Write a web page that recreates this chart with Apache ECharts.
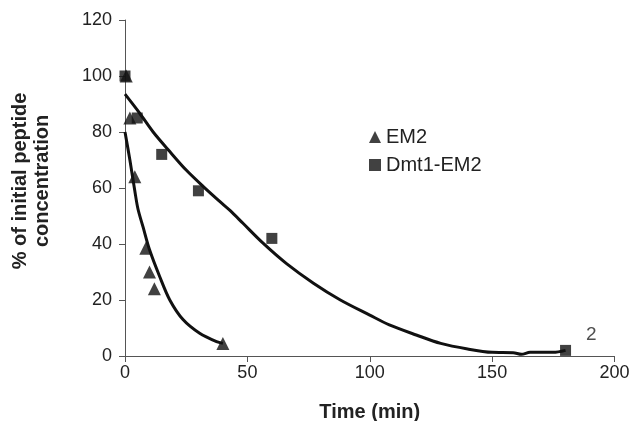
<!DOCTYPE html>
<html>
<head>
<meta charset="utf-8">
<script src="https://cdn.jsdelivr.net/npm/echarts@6/dist/echarts.min.js"></script>
<style>
  html, body { margin: 0; padding: 0; background: #fff; }
  #chart { width: 635px; height: 421px; }
</style>
</head>
<body>
<div id="chart"></div>
<script>
  // measured points [time (min), % of initial]
  var em2Points = [[0.5, 100], [2, 85], [4, 64], [8.5, 38.5], [10, 30], [12, 24], [40, 4.5]]
  var dmtPoints = [[0, 100], [5, 85], [15, 72], [30, 59], [60, 42], [180, 2]]

  // fitted curves
  var em2Fit = [[0, 80], [2, 70], [4, 59], [5.3, 52.5], [7.4, 46], [10, 38], [14.2, 28.3],
    [18.3, 20], [23.7, 13], [30.5, 8.1], [37.4, 5.1], [40, 4.5]]
  var dmtFit = [[0, 93.5], [6, 86.7], [11.5, 80], [18.3, 73], [25, 66.4], [32, 60.5],
    [38.7, 55.2], [43, 51.9], [48.2, 47.4], [56.4, 40.3], [66, 33], [77, 26], [88, 20],
    [100, 14.6], [108, 11.1], [119, 7.5], [129, 4.5], [140, 2.5], [150, 1.3],
    [158.6, 1.2], [162, 0.6], [165.5, 1.3], [175, 1.3], [180, 2]]

  var chart = echarts.init(document.getElementById('chart'))
  var axisColor = '#555'
  var font = '"Liberation Sans", Arial, sans-serif'

  // put the "2" label on the last Dmt1-EM2 point
  var dmtData = dmtPoints.map(function (p, i) {
    if (i === dmtPoints.length - 1) {
      return {
        value: p,
        label: { show: true, formatter: '2', position: 'right', offset: [10, -16],
          color: '#222', fontSize: 19, fontFamily: font }
      }
    }
    return p
  })

  var option = {
    animation: false,
    backgroundColor: '#fff',
    grid: { left: 125, right: 20.5, top: 20, bottom: 65, outerBoundsMode: 'none' },
    legend: {
      orient: 'vertical',
      left: 364,
      top: 122,
      itemGap: 8,
      itemWidth: 12,
      itemHeight: 12,
      textStyle: { color: '#222', fontSize: 20, fontFamily: font },
      data: [
        { name: 'EM2', icon: 'triangle' },
        { name: 'Dmt1-EM2', icon: 'rect' }
      ]
    },
    xAxis: {
      type: 'value',
      min: 0, max: 200, interval: 50,
      name: 'Time (min)',
      nameLocation: 'middle',
      nameGap: 46,
      nameTextStyle: { color: '#222', fontSize: 20, fontWeight: 'bold', fontFamily: font },
      splitLine: { show: false },
      axisLine: { lineStyle: { color: axisColor, width: 1 } },
      axisTick: { length: 6, lineStyle: { color: axisColor } },
      axisLabel: { color: '#222', fontSize: 18, margin: 8, fontFamily: font }
    },
    yAxis: {
      type: 'value',
      min: 0, max: 120, interval: 20,
      name: '% of initial peptide\nconcentration',
      nameLocation: 'middle',
      nameGap: 72,
      nameTextStyle: { color: '#222', fontSize: 20, fontWeight: 'bold', lineHeight: 22,
        fontFamily: font, padding: [0, 0, 0, 14] },
      splitLine: { show: false },
      axisLine: { show: true, lineStyle: { color: axisColor, width: 1 } },
      axisTick: { show: true, length: 6, lineStyle: { color: axisColor } },
      axisLabel: { color: '#222', fontSize: 18, margin: 13, fontFamily: font }
    },
    series: [
      {
        name: 'EM2fit',
        type: 'line',
        smooth: 0.3,
        showSymbol: false,
        silent: true,
        lineStyle: { color: '#111', width: 3 },
        data: em2Fit
      },
      {
        name: 'Dmt1fit',
        type: 'line',
        smooth: 0.3,
        showSymbol: false,
        silent: true,
        lineStyle: { color: '#111', width: 3 },
        data: dmtFit
      },
      {
        name: 'EM2',
        type: 'scatter',
        symbol: 'triangle',
        symbolSize: 13,
        itemStyle: { color: '#111' },
        data: em2Points
      },
      {
        name: 'Dmt1-EM2',
        type: 'scatter',
        symbol: 'rect',
        symbolSize: 11,
        itemStyle: { color: '#111' },
        data: dmtData
      }
    ]
  }
  chart.setOption(option)
</script>
</body>
</html>
